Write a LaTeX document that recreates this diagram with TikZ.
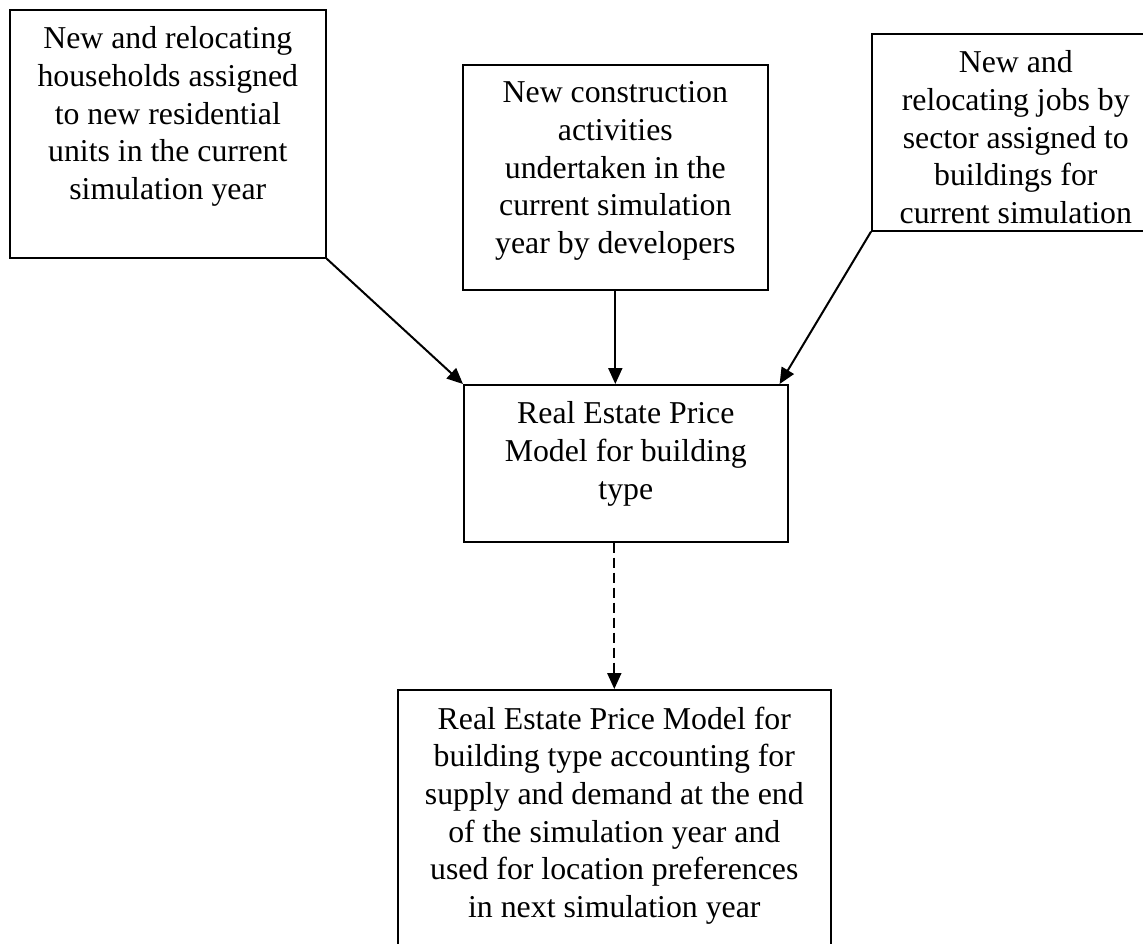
\documentclass[tikz,border=0pt]{standalone}
\usepackage{fontspec}
\setmainfont{Liberation Serif}
\usetikzlibrary{arrows.meta}
\newcommand\boxtext[3]{\parbox[c][#2][t]{#1}{\centering\vspace*{8.5pt}#3}}
\tikzset{
    block/.style={draw, line width=0.8pt, inner sep=0pt, anchor=north west,
        font=\fontsize{15.9}{18.8}\selectfont},
    link/.style={line width=1pt, -{Triangle[length=8pt,width=7pt]}},
    dashlink/.style={link, dash pattern=on 5pt off 2.5pt}
}
\begin{document}
\begin{tikzpicture}[x=0.5pt, y=-0.5pt]
    \useasboundingbox (0,0) rectangle (1143,943);
    \clip (0,0) rectangle (1143,943);

    \node[block] (households) at (9,9) {\boxtext{158pt}{124pt}{New and relocating\\
        households assigned\\ to new residential\\ units in the current\\ simulation year}};
    \node[block] (construction) at (462,64) {\boxtext{152.5pt}{112.5pt}{New construction\\
        activities\\ undertaken in the\\ current simulation\\ year by developers}};
    \node[block] (jobs) at (871,33) {\boxtext{144pt}{98.5pt}{New and\\
        relocating jobs by\\ sector assigned to\\ buildings for\\ current simulation}};
    \node[block] (price) at (463,384) {\boxtext{162pt}{78.5pt}{Real Estate Price\\
        Model for building\\ type}};
    \node[block] (update) at (397,689) {\boxtext{216.5pt}{140.5pt}{Real Estate Price Model for\\
        building type accounting for\\ supply and demand at the end\\
        of the simulation year and\\ used for location preferences\\ in next simulation year}};

    \coordinate (jobstip) at ([xshift=-4.5pt]price.north east);
    \draw[link] (households.south east) -- (price.north west);
    \draw[link] (construction.south) -- (construction.south |- price.north);
    \draw[link] (jobs.south west) -- (jobstip);
    \draw[dashlink] (update.north |- price.south) -- (update.north);
\end{tikzpicture}
\end{document}
